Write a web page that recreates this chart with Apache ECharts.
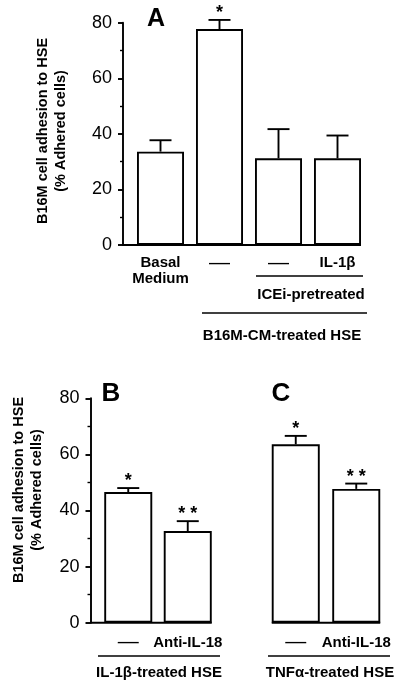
<!DOCTYPE html>
<html><head><meta charset="utf-8">
<script src="https://cdn.jsdelivr.net/npm/echarts@6/dist/echarts.min.js"></script>
<style>html,body{margin:0;padding:0;background:#fff}#c{width:400px;height:690px}</style>
</head><body><div id="c"></div>
<script>
// ---- data ----
const catA = ['Basal\nMedium', '—', '—', 'IL-1β'];
const valA = [33.6, 77.7, 31.2, 31.2];
const errA = [4.1, 3.3, 10.5, 8.2];
const sigA = ['', '*', '', ''];
const catB = ['—', 'Anti-IL-18'];
const valB = [46.6, 32.7];
const errB = [1.4, 3.5];
const sigB = ['*', '**'];
const catC = ['—', 'Anti-IL-18'];
const valC = [63.6, 47.7];
const errC = [3.0, 1.9];
const sigC = ['*', '**'];
const yMin = 0, yMax = 80, yStep = 20;
const yTitle = ['B16M cell adhesion to HSE', '(% Adhered cells)'];

const FONT = 'Liberation Sans, Arial, sans-serif';
const LW = 1.9;
const chart = echarts.init(document.getElementById('c'), null, {renderer: 'canvas'});

function grid(left, top, width, height) { return {left, top, width, height, containLabel: false}; }

function xAx(gi, cats, margin) {
  return {
    type: 'category', gridIndex: gi, data: cats,
    axisLine: {show: false}, axisTick: {show: false},
    axisLabel: {
      interval: 0, margin: margin, color: '#000', fontFamily: FONT, fontWeight: 'bold', fontSize: 15, lineHeight: 16,
      formatter: v => v === '—' ? '{d|—}' : v,
      rich: {d: {fontSize: 21, fontWeight: 'normal', color: '#000', fontFamily: FONT}}
    }
  };
}
function yAx(gi, show) {
  return {
    type: 'value', gridIndex: gi, min: yMin, max: yMax, interval: yStep, show: show, offset: 8,
    splitLine: {show: false},
    axisLine: {show: true, lineStyle: {color: '#000', width: LW}},
    axisTick: {show: true, length: 5, lineStyle: {color: '#000', width: LW}},
    minorTick: {show: true, splitNumber: 2, length: 3, lineStyle: {color: '#000', width: 1.4}},
    axisLabel: {color: '#000', fontFamily: FONT, fontSize: 18, margin: 11}
  };
}
function barS(gi, vals, w) {
  return {
    type: 'bar', xAxisIndex: gi, yAxisIndex: gi, data: vals, barWidth: w, silent: true,
    itemStyle: {color: '#fff', borderColor: '#000', borderWidth: LW}
  };
}
function errS(gi, vals, errs, sigs) {
  return {
    type: 'custom', xAxisIndex: gi, yAxisIndex: gi, silent: true, z: 5,
    data: vals.map((v, i) => [i, v, errs[i]]),
    renderItem: (params, api) => {
      const b = api.coord([api.value(0), api.value(1)]);
      const t = api.coord([api.value(0), api.value(1) + api.value(2)]);
      const s = sigs[params.dataIndex];
      const ch = [
        {type: 'line', shape: {x1: b[0], y1: b[1], x2: t[0], y2: t[1]}, style: {stroke: '#000', lineWidth: LW}},
        {type: 'line', shape: {x1: t[0] - 11, y1: t[1], x2: t[0] + 11, y2: t[1]}, style: {stroke: '#000', lineWidth: LW}}
      ];
      if (s) ch.push({type: 'text', x: t[0], y: t[1] - 7, style: {text: s.split('').join(' '), fill: '#000', font: 'bold 18px ' + FONT, textAlign: 'center', textVerticalAlign: 'middle'}});
      return {type: 'group', children: ch};
    }
  };
}

chart.setOption({
  animation: false,
  backgroundColor: '#fff',
  grid: [grid(131, 22.7, 236, 222.3), grid(98.5, 398.3, 119, 224.4), grid(265.5, 398.3, 121, 224.4)],
  xAxis: [xAx(0, catA, 10), xAx(1, catB, 12), xAx(2, catC, 12)],
  yAxis: [yAx(0, true), yAx(1, true), yAx(2, false)],
  series: [
    barS(0, valA, 47), errS(0, valA, errA, sigA),
    barS(1, valB, 48), errS(1, valB, errB, sigB),
    barS(2, valC, 48), errS(2, valC, errC, sigC)
  ]
});

// ---- annotations ----
function px(gi, c, v) { return chart.convertToPixel({gridIndex: gi}, [c, v]); }
function hline(x1, x2, y, w) { return {type: 'line', shape: {x1, y1: y, x2, y2: y}, style: {stroke: '#000', lineWidth: w || LW}, silent: true}; }
function txt(x, y, text, font, rot) {
  return {type: 'text', x, y, rotation: rot || 0, silent: true,
    style: {text, fill: '#000', font, textAlign: 'center', textVerticalAlign: 'middle', lineHeight: 18}};
}
const a0 = px(0, 0, 0), a3 = px(0, 3, 0);
const b0 = px(1, 0, 0), b1 = px(1, 1, 0);
const c0 = px(2, 0, 0), c1 = px(2, 1, 0);
const g = [
  hline(122.5, a3[0] + 23.5, a0[1]),
  hline(90, b1[0] + 24, b0[1]),
  hline(c0[0] - 24, c1[0] + 24, c0[1]),
  hline(256, 363, 276, 1.5),
  hline(202, 367, 313, 1.5),
  hline(98, 220, 656, 1.5),
  hline(268, 390, 656, 1.5),
  txt(311, 295, 'ICEi-pretreated', 'bold 15px ' + FONT),
  txt(282, 336, 'B16M-CM-treated HSE', 'bold 15px ' + FONT),
  txt(159, 673, 'IL-1β-treated HSE', 'bold 15px ' + FONT),
  txt(330, 673, 'TNFα-treated HSE', 'bold 15px ' + FONT),
  txt(156, 19, 'A', 'bold 25px ' + FONT),
  txt(111, 394, 'B', 'bold 26px ' + FONT),
  txt(281, 394, 'C', 'bold 26px ' + FONT),
  txt(52, 131, yTitle.join('\n'), 'bold 14.5px ' + FONT, Math.PI / 2),
  txt(27.5, 490, yTitle.join('\n'), 'bold 14.5px ' + FONT, Math.PI / 2)
];
chart.setOption({graphic: g});
</script></body></html>
